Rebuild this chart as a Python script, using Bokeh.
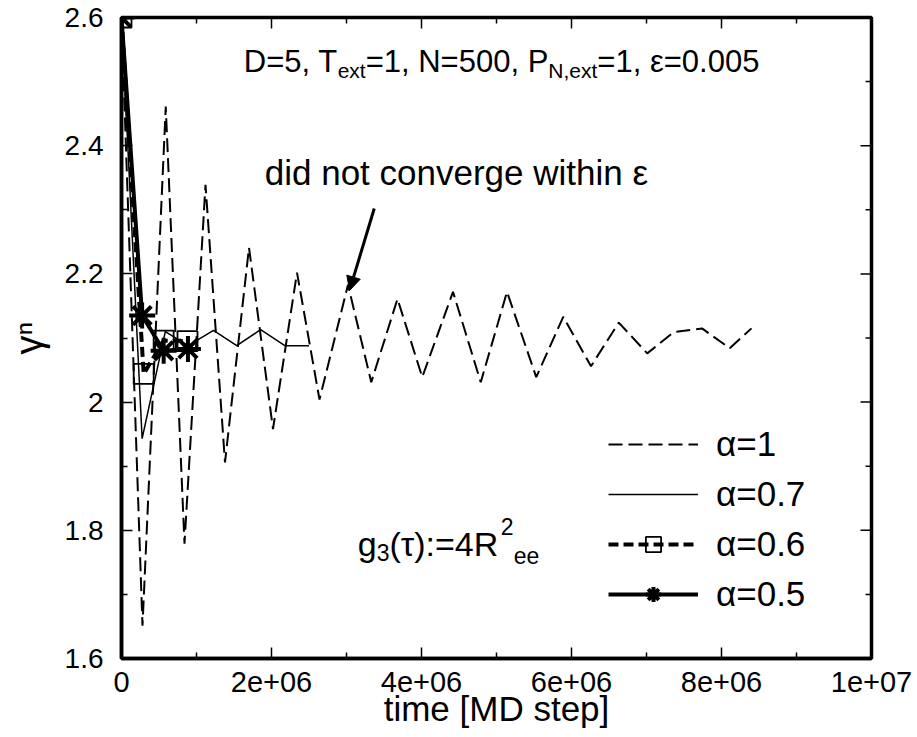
from bokeh.plotting import figure
from bokeh.models import (LinearAxis, FixedTicker, Legend, LegendItem, Label,
                          Arrow, NormalHead, Range1d)
from bokeh.embed import file_html
from bokeh.resources import INLINE

# ---------------- data ----------------
t_a10 = [0, 0.28e6, 0.59e6, 0.84e6, 1.12e6, 1.38e6, 1.70e6, 2.02e6, 2.34e6,
         2.64e6, 3.02e6, 3.33e6, 3.68e6, 4.01e6, 4.42e6, 4.79e6, 5.14e6,
         5.53e6, 5.89e6, 6.26e6, 6.63e6, 7.01e6, 7.36e6, 7.74e6, 8.11e6, 8.40e6]
g_a10 = [2.6, 1.651, 2.461, 1.779, 2.339, 1.906, 2.241, 1.958, 2.202,
         2.004, 2.183, 2.031, 2.161, 2.039, 2.172, 2.031, 2.172,
         2.039, 2.133, 2.056, 2.124, 2.076, 2.109, 2.115, 2.084, 2.115]

t_a07 = [0, 0.275e6, 0.584e6, 0.89e6, 1.226e6, 1.537e6, 1.855e6, 2.178e6, 2.50e6]
g_a07 = [2.6, 1.943, 2.110, 2.088, 2.112, 2.088, 2.113, 2.088, 2.088]

t_a06 = [0, 0.296e6, 0.562e6, 0.88e6]
g_a06 = [2.6, 2.044, 2.096, 2.095]

t_a05 = [0, 0.275e6, 0.562e6, 0.886e6]
g_a05 = [2.6, 2.135, 2.080, 2.083]

x_ticks = [0, 2e6, 4e6, 6e6, 8e6, 1e7]
x_tick_labels = ["0", "2e+06", "4e+06", "6e+06", "8e+06", "1e+07"]
x_minor = [1e6, 3e6, 5e6, 7e6, 9e6]
y_ticks = [1.6, 1.8, 2.0, 2.2, 2.4, 2.6]
y_tick_labels = ["1.6", "1.8", "2", "2.2", "2.4", "2.6"]
y_minor = [1.7, 1.9, 2.1, 2.3, 2.5]

legend_labels = ["\u03b1=1", "\u03b1=0.7", "\u03b1=0.6", "\u03b1=0.5"]

FONT = "Liberation Sans"
X0, X1, Y0, Y1 = 0, 1e7, 1.6, 2.6
FW, FH = 750, 641  # frame size in px

# Arial / Liberation Sans advance widths (per 1000 em)
W = {' ': 278, ',': 278, '.': 278, '=': 584, 'D': 722, 'T': 611, 'N': 722,
     'P': 667, 'R': 722, 'e': 556, 'x': 500, 't': 278, 'g': 556, '(': 333,
     ')': 333, ':': 278, '\u03c4': 440, '\u03b5': 446}


def tw(s, size):
    return sum(W.get(c, 556) for c in s) * size / 1000.0


p = figure(width=917, height=737, output_backend="svg", toolbar_location=None,
           x_range=Range1d(X0, X1), y_range=Range1d(Y0, Y1),
           min_border_left=121, min_border_right=46, min_border_top=17,
           min_border_bottom=79, x_axis_type=None, y_axis_type=None)
p.background_fill_color = "white"
p.border_fill_color = "white"
p.outline_line_color = "black"
p.outline_line_width = 3.5
p.grid.grid_line_color = None


def style_axis(ax, ticks, minor, labels, size):
    ax.ticker = FixedTicker(ticks=ticks, minor_ticks=minor)
    ax.axis_line_color = "black"
    ax.axis_line_width = 3.5
    ax.major_tick_in = 11
    ax.major_tick_out = 0
    ax.minor_tick_in = 6
    ax.minor_tick_out = 0
    ax.major_tick_line_width = 1.5
    ax.minor_tick_line_width = 1.5
    ax.major_label_overrides = {k: v for k, v in zip(ticks, labels)}
    ax.major_label_text_font = FONT
    ax.major_label_text_font_size = size
    ax.major_label_text_color = "black"
    ax.axis_label_text_font = FONT
    ax.axis_label_text_font_style = "normal"
    ax.axis_label_text_color = "black"


xb = LinearAxis(axis_label="time [MD step]")
style_axis(xb, x_ticks, x_minor, x_tick_labels, "29px")
xb.major_label_standoff = 13
xb.axis_label_text_font_size = "35px"
xb.axis_label_standoff = -6
p.add_layout(xb, "below")

yl = LinearAxis(axis_label="\u03b3\u207f")
style_axis(yl, y_ticks, y_minor, y_tick_labels, "28px")
yl.major_label_standoff = 18
yl.axis_label_text_font_size = "38px"
yl.axis_label_standoff = 12
p.add_layout(yl, "left")

# mirrored inward ticks on the top and right edges (same tick lists)
dx = (X1 - X0) / FW
dy = (Y1 - Y0) / FH
top_x = x_ticks[1:-1] + x_minor
top_len = [11 * dy] * (len(x_ticks) - 2) + [6 * dy] * len(x_minor)
p.segment(x0=top_x, y0=[Y1] * len(top_x), x1=top_x,
          y1=[Y1 - L for L in top_len], line_color="black", line_width=1.5)
right_y = y_ticks[1:-1] + y_minor
right_len = [11 * dx] * (len(y_ticks) - 2) + [6 * dx] * len(y_minor)
p.segment(x0=[X1] * len(right_y), y0=right_y,
          x1=[X1 - L for L in right_len], y1=right_y,
          line_color="black", line_width=1.5)

# ---------------- series ----------------
r10 = p.line(t_a10, g_a10, line_color="black", line_width=2, line_dash="14 6")
r07 = p.line(t_a07, g_a07, line_color="black", line_width=1.5)
r06l = p.line(t_a06, g_a06, line_color="black", line_width=4, line_dash="10 5")
r06m = p.scatter(t_a06, g_a06, marker="square", size=20, fill_alpha=0,
                 line_color="black", line_width=1.8)
r05l = p.line(t_a05, g_a05, line_color="black", line_width=4)
r05m = p.scatter(t_a05, g_a05, marker="asterisk", size=26,
                 line_color="black", line_width=4)

legend = Legend(items=[
    LegendItem(label=legend_labels[0], renderers=[r10]),
    LegendItem(label=legend_labels[1], renderers=[r07]),
    LegendItem(label=legend_labels[2], renderers=[r06l, r06m]),
    LegendItem(label=legend_labels[3], renderers=[r05l, r05m]),
], location=(487, 44))
legend.label_text_font = FONT
legend.label_text_font_size = "35px"
legend.label_text_color = "black"
legend.glyph_width = 90
legend.glyph_height = 38
legend.label_height = 38
legend.spacing = 10
legend.padding = 0
legend.margin = 0
legend.label_standoff = 18
legend.border_line_color = None
legend.background_fill_alpha = 0
p.add_layout(legend)


# ---------------- annotations ----------------
def put(x, y, txt, size, xo=0.0, yo=0.0):
    p.add_layout(Label(x=x, y=y, x_offset=xo, y_offset=yo, text=txt,
                       text_font=FONT, text_font_size=f"{size}px",
                       text_color="black", text_baseline="alphabetic",
                       text_align="left"))


TOP, SUB = 31, 21
x_top, y_top = 1.63e6, 2.532
off = 0.0
for txt, size, yo in [("D=5, T", TOP, 0), ("ext", SUB, -9),
                      ("=1, N=500, P", TOP, 0), ("N,ext", SUB, -9),
                      ("=1, \u03b5=0.005", TOP, 0)]:
    put(x_top, y_top, txt, size, off, yo)
    off += tw(txt, size)

put(1.91e6, 2.358, "did not converge within \u03b5", 35)

# g3(tau) := 4 R^2_ee
GF, GS = 34, 23
x_g, y_g = 3.15e6, 1.778
off = 0.0
for txt, size, yo in [("g", GF, 0), ("3", GS, -8), ("(\u03c4):=4R", GF, 0)]:
    put(x_g, y_g, txt, size, off, yo)
    off += tw(txt, size)
put(x_g, y_g, "2", GS, off + 1, 18)
put(x_g, y_g, "ee", GS, off + 14, -11)

p.add_layout(Arrow(end=NormalHead(size=14, fill_color="black",
                                  line_color="black"),
                   x_start=3.37e6, y_start=2.302, x_end=3.04e6, y_end=2.174,
                   line_width=3, line_color="black"))

open("out.html", "w").write(file_html(p, INLINE))
